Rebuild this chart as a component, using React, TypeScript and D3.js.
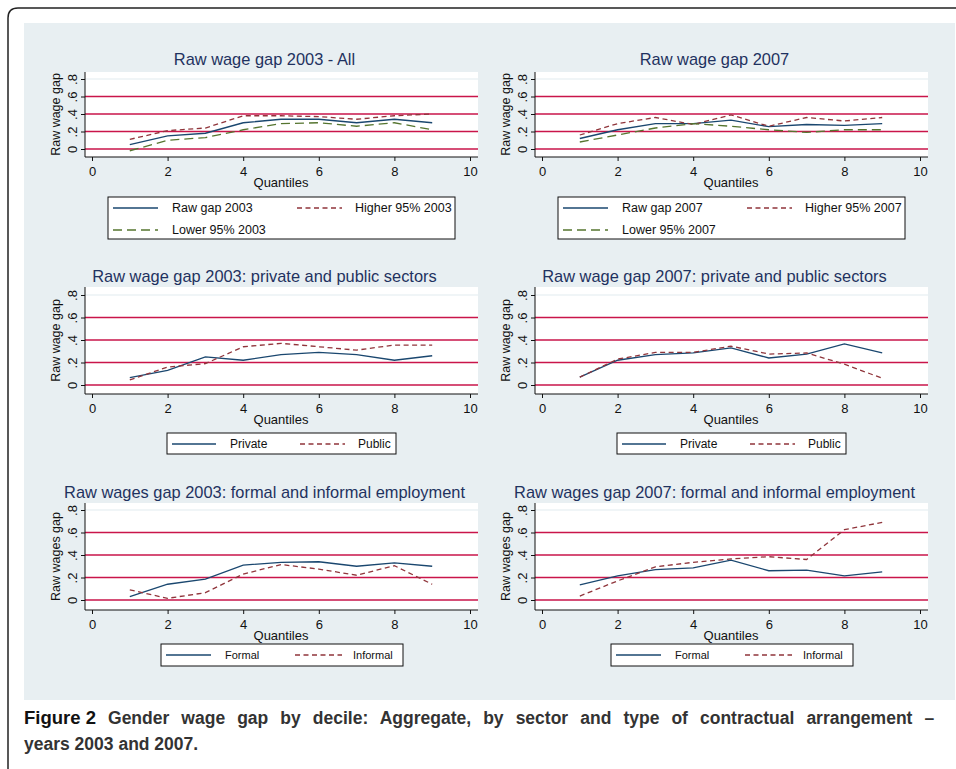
import * as d3 from "d3";
import { useRef, useEffect } from "react";

// deciles on the x axis
const quantiles = [1, 2, 3, 4, 5, 6, 7, 8, 9];
const xTicks = [0, 2, 4, 6, 8, 10];
const yTicks = [0, 0.2, 0.4, 0.6, 0.8];
const yTickLabels = ["0", ".2", ".4", ".6", ".8"];
const redLines = [0, 0.2, 0.4, 0.6];

// aggregate
const rawGap2003 = [0.05, 0.15, 0.18, 0.3, 0.34, 0.34, 0.3, 0.34, 0.3];
const higher2003 = [0.11, 0.21, 0.24, 0.38, 0.38, 0.37, 0.34, 0.38, 0.4];
const lower2003 = [-0.02, 0.1, 0.13, 0.22, 0.29, 0.3, 0.26, 0.3, 0.22];
const rawGap2007 = [0.12, 0.22, 0.29, 0.29, 0.33, 0.255, 0.28, 0.27, 0.29];
const higher2007 = [0.16, 0.29, 0.36, 0.28, 0.39, 0.26, 0.36, 0.32, 0.36];
const lower2007 = [0.08, 0.16, 0.24, 0.29, 0.26, 0.22, 0.19, 0.22, 0.22];

// by sector
const private2003 = [0.065, 0.13, 0.25, 0.22, 0.27, 0.29, 0.27, 0.22, 0.26];
const public2003 = [0.045, 0.16, 0.19, 0.34, 0.37, 0.34, 0.31, 0.355, 0.355];
const private2007 = [0.07, 0.22, 0.27, 0.285, 0.33, 0.24, 0.275, 0.365, 0.285];
const public2007 = [0.07, 0.23, 0.29, 0.29, 0.345, 0.275, 0.285, 0.185, 0.06];

// by contract type
const formal2003 = [0.03, 0.14, 0.185, 0.31, 0.335, 0.34, 0.3, 0.33, 0.3];
const informal2003 = [0.09, 0.015, 0.065, 0.23, 0.315, 0.275, 0.22, 0.305, 0.14];
const formal2007 = [0.135, 0.215, 0.27, 0.285, 0.355, 0.26, 0.265, 0.215, 0.25];
const informal2007 = [0.035, 0.17, 0.295, 0.335, 0.365, 0.385, 0.36, 0.625, 0.69];

const NAVY = "#1a476f";
const MAROON = "#90353b";
const GREEN = "#55752f";
const FONT = "'Liberation Sans', Arial, sans-serif";

// layout of the three rows of graphs
const ROWS = [
  { titleY: 65, top: 72, bottom: 157, y0: 149, y8: 79, legTop: 197, legH: 42 },
  { titleY: 282, top: 287, bottom: 394, y0: 385, y8: 295, legTop: 433, legH: 21 },
  { titleY: 498, top: 503, bottom: 610, y0: 600, y8: 510, legTop: 644, legH: 22 },
];

const solid = { color: NAVY, dash: null };
const shortDash = { color: MAROON, dash: "5,3.5" };
const longDash = { color: GREEN, dash: "9,5" };

const panels = [
  {
    row: 0, col: 0, title: "Raw wage gap 2003 - All", yLabel: "Raw wage gap",
    series: [
      { name: "Raw gap 2003", values: rawGap2003, ...solid },
      { name: "Higher 95% 2003", values: higher2003, ...shortDash },
      { name: "Lower 95% 2003", values: lower2003, ...longDash },
    ],
  },
  {
    row: 0, col: 1, title: "Raw wage gap 2007", yLabel: "Raw wage gap",
    series: [
      { name: "Raw gap 2007", values: rawGap2007, ...solid },
      { name: "Higher 95% 2007", values: higher2007, ...shortDash },
      { name: "Lower 95% 2007", values: lower2007, ...longDash },
    ],
  },
  {
    row: 1, col: 0, title: "Raw wage gap 2003: private and public sectors", yLabel: "Raw wage gap",
    series: [
      { name: "Private", values: private2003, ...solid },
      { name: "Public", values: public2003, ...shortDash },
    ],
  },
  {
    row: 1, col: 1, title: "Raw wage gap 2007: private and public sectors", yLabel: "Raw wage gap",
    series: [
      { name: "Private", values: private2007, ...solid },
      { name: "Public", values: public2007, ...shortDash },
    ],
  },
  {
    row: 2, col: 0, title: "Raw wages gap 2003: formal and informal employment", yLabel: "Raw wages gap",
    series: [
      { name: "Formal", values: formal2003, ...solid },
      { name: "Informal", values: informal2003, ...shortDash },
    ],
  },
  {
    row: 2, col: 1, title: "Raw wages gap 2007: formal and informal employment", yLabel: "Raw wages gap",
    series: [
      { name: "Formal", values: formal2007, ...solid },
      { name: "Informal", values: informal2007, ...shortDash },
    ],
  },
];

// legend entry slots (line start, line end, text x, row) per graph row
const LEGEND_SLOTS = [
  { box: [108, 455], slots: [[113, 158, 172, 0], [297, 342, 355, 0], [113, 158, 172, 1]], rowGap: 22, first: 11, size: 12.5 },
  { box: [167, 396], slots: [[172, 216, 230, 0], [300, 345, 358, 0]], rowGap: 0, first: 11, size: 12 },
  { box: [161, 403], slots: [[166, 211, 225, 0], [295, 342, 353, 0]], rowGap: 0, first: 11, size: 11 },
];

const App = () => {
  const ref = useRef(null);

  useEffect(() => {
    const svg = d3.select(ref.current);
    svg.selectAll("*").remove();

    // outer frame with rounded corner
    svg.append("path")
      .attr("d", "M8,769 L8,18 Q8,8 18,8 L956,8")
      .attr("fill", "none")
      .attr("stroke", "#222")
      .attr("stroke-width", 1.5);

    svg.append("rect")
      .attr("x", 24).attr("y", 23)
      .attr("width", 931).attr("height", 677)
      .attr("fill", "#e8eff2");

    panels.forEach(p => {
      const off = p.col * 450;
      const L = ROWS[p.row];
      const left = 85 + off;
      const right = 478 + off;

      const x = d3.scaleLinear().domain([0, 10]).range([92 + off, 470 + off]);
      const y = d3.scaleLinear().domain([0, 0.8]).range([L.y0, L.y8]);

      const g = svg.append("g");

      g.append("rect")
        .attr("x", left).attr("y", L.top)
        .attr("width", right - left).attr("height", L.bottom - L.top)
        .attr("fill", "#fff");

      g.append("line")
        .attr("x1", left).attr("x2", right)
        .attr("y1", y(0.8)).attr("y2", y(0.8))
        .attr("stroke", "#e2ebef").attr("stroke-width", 1.2);

      g.selectAll(".ref")
        .data(redLines)
        .join("line")
        .attr("x1", left).attr("x2", right)
        .attr("y1", d => y(d)).attr("y2", d => y(d))
        .attr("stroke", "#c9154a").attr("stroke-width", 1.4);

      const line = d3.line()
        .x((d, i) => x(quantiles[i]))
        .y(d => y(d));

      p.series.forEach(s => {
        g.append("path")
          .datum(s.values)
          .attr("fill", "none")
          .attr("stroke", s.color)
          .attr("stroke-width", 1.3)
          .attr("stroke-dasharray", s.dash)
          .attr("d", line);
      });

      // axes
      const xAxis = g.append("g")
        .attr("transform", `translate(0,${L.bottom})`)
        .call(d3.axisBottom(x).tickValues(xTicks).tickSize(4).tickFormat(d3.format("d")));
      xAxis.select(".domain").remove();
      xAxis.selectAll("line").attr("stroke", "#111");
      xAxis.selectAll("text")
        .attr("font-family", FONT).attr("font-size", 13)
        .attr("fill", "#111").attr("y", 10);

      const yAxis = g.append("g")
        .attr("transform", `translate(${left},0)`)
        .call(d3.axisLeft(y).tickValues(yTicks).tickSize(4)
          .tickFormat((d, i) => yTickLabels[i]));
      yAxis.select(".domain").remove();
      yAxis.selectAll("line").attr("stroke", "#111");
      yAxis.selectAll("text")
        .attr("font-family", FONT).attr("font-size", 13)
        .attr("fill", "#111")
        .attr("transform", "rotate(-90)")
        .attr("text-anchor", "middle")
        .attr("x", 0).attr("y", -8).attr("dy", 0);

      g.append("line")
        .attr("x1", left).attr("x2", left)
        .attr("y1", L.top).attr("y2", L.bottom)
        .attr("stroke", "#111");
      g.append("line")
        .attr("x1", left).attr("x2", right)
        .attr("y1", L.bottom).attr("y2", L.bottom)
        .attr("stroke", "#111");

      // titles
      g.append("text")
        .attr("x", (left + right) / 2 - 17).attr("y", L.titleY)
        .attr("text-anchor", "middle")
        .attr("font-family", FONT).attr("font-size", 16.4)
        .attr("fill", "#1f3260")
        .text(p.title);

      g.append("text")
        .attr("x", x(5)).attr("y", L.bottom + 30)
        .attr("text-anchor", "middle")
        .attr("font-family", FONT).attr("font-size", 13)
        .attr("fill", "#111")
        .text("Quantiles");

      const midY = (L.top + L.bottom) / 2;
      g.append("text")
        .attr("transform", `translate(${60 + off},${midY}) rotate(-90)`)
        .attr("text-anchor", "middle")
        .attr("font-family", FONT).attr("font-size", 12.5)
        .attr("fill", "#111")
        .text(p.yLabel);

      // legend
      const lg = LEGEND_SLOTS[p.row];
      g.append("rect")
        .attr("x", lg.box[0] + off).attr("y", L.legTop)
        .attr("width", lg.box[1] - lg.box[0]).attr("height", L.legH)
        .attr("fill", "#fff").attr("stroke", "#111").attr("stroke-width", 1);

      p.series.forEach((s, i) => {
        const [x1, x2, tx, r] = lg.slots[i];
        const ly = L.legTop + lg.first + r * lg.rowGap;
        g.append("line")
          .attr("x1", x1 + off).attr("x2", x2 + off)
          .attr("y1", ly).attr("y2", ly)
          .attr("stroke", s.color).attr("stroke-width", 1.3)
          .attr("stroke-dasharray", s.dash);
        g.append("text")
          .attr("x", tx + off).attr("y", ly)
          .attr("dy", "0.35em")
          .attr("font-family", FONT).attr("font-size", lg.size)
          .attr("fill", "#111")
          .text(s.name);
      });
    });

    // caption, first line justified to the panel width
    const line1 = svg.append("text")
      .attr("x", 24).attr("y", 724)
      .attr("font-family", FONT).attr("font-weight", "bold");
    line1.append("tspan").attr("font-size", 18.5).attr("fill", "#111").text("Figure 2");
    const rest = line1.append("tspan").attr("font-size", 17.5).attr("fill", "#333")
      .text(" Gender wage gap by decile: Aggregate, by sector and type of contractual arrangement \u2013");
    const node = line1.node();
    if (node && node.getComputedTextLength) {
      const w = node.getComputedTextLength();
      const text = rest.text();
      const spaces = (text.match(/ /g) || []).length - 1;
      const extra = (927 - 24 - w) / spaces;
      if (extra > 0) rest.attr("word-spacing", extra);
    }
    svg.append("text")
      .attr("x", 24).attr("y", 750)
      .attr("font-family", FONT).attr("font-weight", "bold")
      .attr("font-size", 17.5).attr("fill", "#333")
      .text("years 2003 and 2007.");
  }, []);

  return (
    <svg
      ref={ref}
      width={956}
      height={769}
      style={{ position: "absolute", left: 0, top: 0, background: "#fff" }}
    />
  );
};

export default App;
